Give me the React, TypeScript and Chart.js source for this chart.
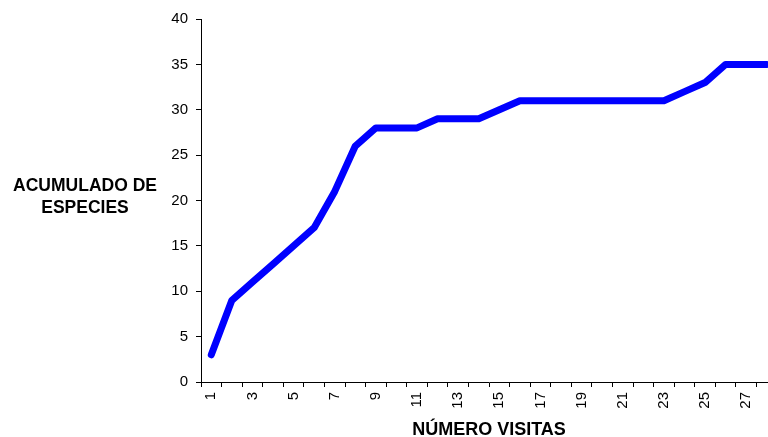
import React, { useEffect, useRef } from "react";
import { Chart, registerables } from "chart.js";

Chart.register(...registerables);

const visits: string[] = [
  "1", "2", "3", "4", "5", "6", "7", "8", "9", "10", "11", "12", "13", "14",
  "15", "16", "17", "18", "19", "20", "21", "22", "23", "24", "25", "26", "27", "28",
];
const species: number[] = [
  3, 9, 11, 13, 15, 17, 21, 26, 28, 28, 28, 29, 29, 29,
  30, 31, 31, 31, 31, 31, 31, 31, 31, 32, 33, 35, 35, 35,
];
const yTitleLines: string[] = ["ACUMULADO DE", "ESPECIES"];
const xTitle = "NÚMERO VISITAS";

const FONT = '"Liberation Sans", Arial, sans-serif';

export default function App() {
  const ref = useRef<HTMLCanvasElement | null>(null);

  useEffect(() => {
    if (!ref.current) return;
    const titlePlugin = {
      id: "titles",
      afterDraw(chart: any) {
        const { ctx, chartArea } = chart;
        ctx.save();
        ctx.fillStyle = "#000";
        ctx.font = `bold 17.5px ${FONT}`;
        ctx.textAlign = "center";
        ctx.textBaseline = "alphabetic";
        ctx.fillText(yTitleLines[0], 85, 190.5);
        ctx.fillText(yTitleLines[1], 85, 212.5);
        ctx.font = `bold 18px ${FONT}`;
        ctx.fillText(xTitle, (chartArea.left + chartArea.right) / 2, 435);
        ctx.restore();
      },
    };
    const chart = new Chart(ref.current, {
      type: "line",
      data: {
        labels: visits,
        datasets: [
          {
            data: species,
            borderColor: "#0000FF",
            backgroundColor: "#0000FF",
            borderWidth: 7,
            borderCapStyle: "round",
            borderJoinStyle: "round",
            pointRadius: 0,
            tension: 0,
            fill: false,
          },
        ],
      },
      options: {
        animation: false,
        responsive: false,
        maintainAspectRatio: false,
        layout: { padding: { left: 151, top: 19, right: 12, bottom: 0 } },
        plugins: { legend: { display: false }, tooltip: { enabled: false } },
        scales: {
          x: {
            type: "category",
            offset: true,
            afterFit(scale: any) {
              scale.height = 55;
            },
            grid: {
              offset: true,
              drawOnChartArea: false,
              drawTicks: true,
              tickLength: 5,
              color: "#000",
            },
            border: { color: "#000", width: 1 },
            ticks: {
              autoSkip: false,
              minRotation: 90,
              maxRotation: 90,
              padding: 5,
              color: "#000",
              font: { family: FONT, size: 15 },
              callback: (_v: any, i: number) => (i % 2 === 0 ? visits[i] : ""),
            },
          },
          y: {
            min: 0,
            max: 40,
            afterFit(scale: any) {
              scale.width = 50;
            },
            grid: {
              drawOnChartArea: false,
              drawTicks: true,
              tickLength: 5,
              color: "#000",
            },
            border: { color: "#000", width: 1 },
            ticks: {
              stepSize: 5,
              padding: 8,
              color: "#000",
              font: { family: FONT, size: 15 },
            },
          },
        },
      },
      plugins: [titlePlugin],
    } as any);
    return () => chart.destroy();
  }, []);

  return (
    <div
      style={{
        position: "fixed",
        left: 0,
        top: 0,
        width: 768,
        height: 437,
        overflow: "hidden",
        background: "#fff",
      }}
    >
      <canvas
        ref={ref}
        width={790}
        height={437}
        style={{ display: "block", width: 790, height: 437 }}
      />
    </div>
  );
}
